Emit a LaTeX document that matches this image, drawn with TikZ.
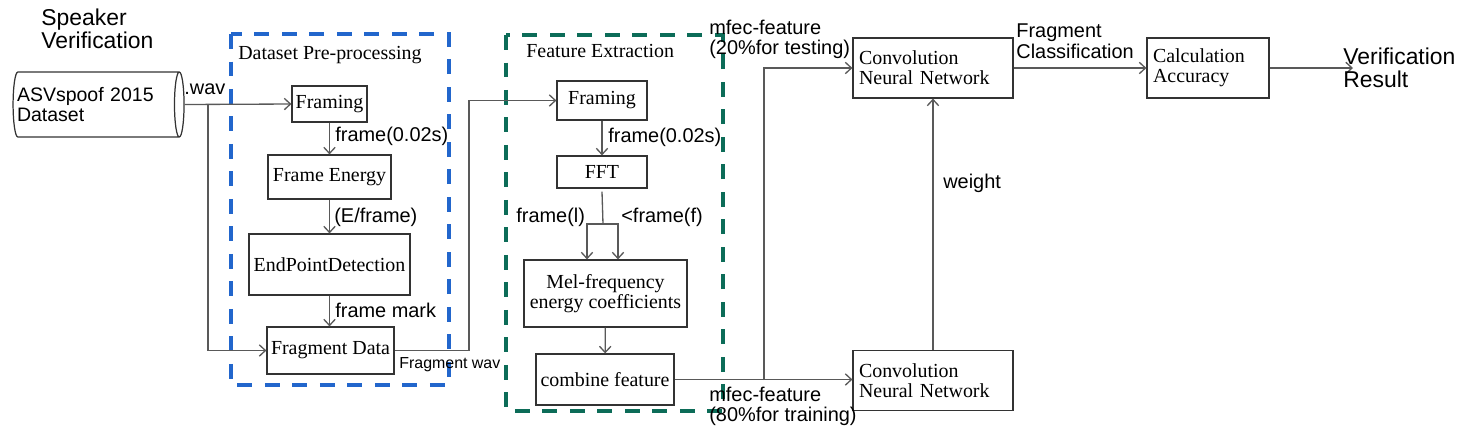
\documentclass[tikz,border=0pt]{standalone}
\usepackage{fontspec}
\setmainfont{Liberation Serif}
\setsansfont{Liberation Sans}
\usetikzlibrary{shapes.geometric, arrows.meta, calc}
\definecolor{prepblue}{RGB}{34,102,204}
\definecolor{featgreen}{RGB}{12,108,88}
\newcommand{\pxserif}{\rmfamily\fontsize{11.34pt}{11.34pt}\selectfont}
\newcommand{\pxsans}{\sffamily\fontsize{11.34pt}{11.34pt}\selectfont}
\newcommand{\pxdb}{\sffamily\fontsize{11.1pt}{11.1pt}\selectfont}
\newcommand{\pxbig}{\sffamily\fontsize{13.04pt}{12.8pt}\selectfont}
\newcommand{\pxsmall}{\sffamily\fontsize{9.07pt}{9.07pt}\selectfont}

\begin{document}
\begin{tikzpicture}[
  x=0.02cm, y=-0.02cm,
  box/.style={draw=black!80, line width=0.7pt, fill=white, font=\pxserif, inner sep=0pt, align=center},
  lbox/.style={box, align=left, inner xsep=0.12cm, minimum height=1.2cm},
  lbl/.style={anchor=base west, inner sep=0pt, font=\pxsans, align=left},
  conn/.style={draw=black!65, line width=0.75pt},
  arr/.style={conn, -{Straight Barb[length=3.5pt,width=6.5pt]}},
  region/.style={line width=2.3pt, dash pattern=on 0.3cm off 0.25cm},
]
\useasboundingbox (0,0) rectangle (1460,434);

\draw[region, draw=prepblue] (231,34) rectangle (449,385);
\draw[region, draw=featgreen] (506,35) rectangle (723,411);

\node[lbl, font=\pxbig] (title) at (41,48) {Speaker\\Verification};
\node[cylinder, draw=black!80, line width=0.7pt, shape aspect=0.21, minimum width=1.3cm, minimum height=3.42cm, inner xsep=0pt, text width=3.1cm, font=\pxdb, align=left] (db) at (94.5,104.5) {ASVspoof 2015\\Dataset};

\node[lbl, font=\pxserif] (preptitle) at (238,59) {Dataset Pre-processing};
\node[box, minimum width=1.5cm, minimum height=0.72cm] (frm1) at (329.5,104) {Framing};
\node[box, minimum width=2.46cm, minimum height=0.88cm] (energy) at (329.5,177) {Frame Energy};
\node[box, minimum width=3.22cm, minimum height=1.22cm] (epd) at (329.5,264.5) {EndPointDetection};
\node[box, minimum width=2.54cm, minimum height=0.94cm] (fragdata) at (330.5,350.5) {Fragment Data};

\node[lbl, font=\pxserif] (feattitle) at (526,57) {Feature Extraction};
\node[box, minimum width=1.8cm, minimum height=0.78cm] (frm2) at (602,100.5) {Framing};
\node[box, minimum width=1.8cm, minimum height=0.64cm] (fft) at (602,172) {FFT};
\node[box, minimum width=3.26cm, minimum height=1.34cm] (mel) at (605.5,293.5) {Mel-frequency\\energy coefficients};
\node[box, minimum width=2.76cm, minimum height=1.02cm] (comb) at (605,379.5) {combine feature};

\node[lbox, text width=2.96cm] (cnn1) at (933,68) {Convolution\\Neural Network};
\node[lbox, text width=2.96cm] (cnn2) at (933,380.5) {Convolution\\Neural Network};
\node[lbox, text width=2.2cm] (calc) at (1208,68) {Calculation\\Accuracy};

\coordinate (split1) at (208,104);
\coordinate (turn1) at (469,225);
\coordinate (fork) at (603,224);
\coordinate (split2) at (764,380);
\coordinate (result) at (1353,68);

\draw[arr] (db.east) -- (frm1.west);
\draw[arr] (split1) |- (fragdata.west);
\draw[arr] (frm1) -- (energy);
\draw[arr] (energy) -- (epd);
\draw[arr] (epd.south) -- (epd.south |- fragdata.north);
\draw[arr] (fragdata.east) -| (turn1) |- (frm2.west);

\draw[arr] (frm2) -- (fft);
\draw[conn] ([yshift=-0.06cm]fft.south) -- (fork);
\draw[arr] (fork) -| ([xshift=-0.37cm]mel.north);
\draw[arr] (fork) -| ([xshift=0.25cm]mel.north);
\draw[arr] (mel) -- (comb);
\draw[arr] (comb.east) -- (comb.east -| cnn2.west);
\draw[arr] (split2) |- (cnn1.west);
\draw[arr] (cnn2) -- (cnn1);
\draw[arr] (cnn1) -- (calc);
\draw[arr] (calc.east) -- (result);

\node[lbl] (wav) at (184,94) {.wav};
\node[lbl] (lframe1) at (335,141) {frame(0.02s)};
\node[lbl] (lenergy) at (334,222) {(E/frame)};
\node[lbl] (lmark) at (335,317) {frame mark};
\node[lbl, font=\pxsmall] (lfragwav) at (399,368) {Fragment wav};
\node[lbl] (lframe2) at (608,142) {frame(0.02s)};
\node[lbl] (lframel) at (516,222) {frame(l)};
\node[lbl] (lframef) at (621,222) {<frame(f)};
\node[lbl] (ltest) at (709,54) {mfec-feature\\(20\%for testing)};
\node[lbl] (ltrain) at (709,421) {mfec-feature\\(80\%for training)};
\node[lbl] (lweight) at (943,188) {weight};
\node[lbl, font=\sffamily\fontsize{11.34pt}{11.9pt}\selectfont] (lclass) at (1016,58) {Fragment\\Classification};
\node[lbl, font=\pxbig] (lresult) at (1343,87) {Verification\\Result};
\end{tikzpicture}
\end{document}
